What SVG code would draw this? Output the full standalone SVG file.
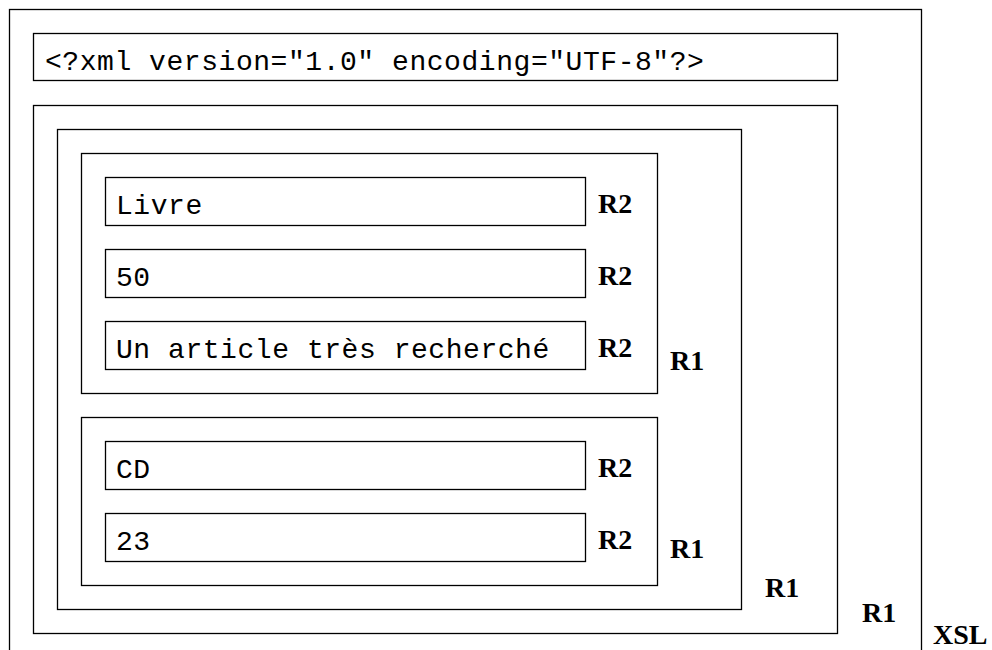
<svg xmlns="http://www.w3.org/2000/svg" width="992" height="650" viewBox="0 0 992 650">
<style>
rect{fill:none;stroke:#000;stroke-width:1.3}
.m{font-family:"Liberation Mono","Courier New",monospace;font-size:28px;letter-spacing:0.55px;fill:#000}
.l{font-family:"Liberation Serif","Times New Roman",serif;font-size:28px;font-weight:bold;fill:#000}
</style>
<rect width="992" height="650" fill="#fff" style="fill:#fff;stroke:none"/>
<g id="xsl">
<rect x="9.5" y="9.5" width="912" height="660"/>
<text class="l" x="933" y="644">XSL</text>
</g>
<g id="decl">
<rect x="33.5" y="33.5" width="804" height="47"/>
<text class="m" x="45" y="69.5">&lt;?xml version="1.0" encoding="UTF-8"?&gt;</text>
</g>
<g id="r1-root">
<rect x="33.5" y="105.5" width="804" height="528"/>
<text class="l" x="862" y="622">R1</text>
</g>
<g id="r1-list">
<rect x="57.5" y="129.5" width="684" height="480"/>
<text class="l" x="765" y="597">R1</text>
</g>
<g id="r1-item1">
<rect x="81.5" y="153.5" width="576" height="240"/>
<text class="l" x="670" y="370">R1</text>
</g>
<g id="livre">
<rect x="105.5" y="177.5" width="480" height="48"/>
<text class="m" x="116" y="214">Livre</text>
<text class="l" x="598" y="213">R2</text>
</g>
<g id="p50">
<rect x="105.5" y="249.5" width="480" height="48"/>
<text class="m" x="116" y="286">50</text>
<text class="l" x="598" y="285">R2</text>
</g>
<g id="desc">
<rect x="105.5" y="321.5" width="480" height="48"/>
<text class="m" x="116" y="358">Un article très recherché</text>
<text class="l" x="598" y="357">R2</text>
</g>
<g id="r1-item2">
<rect x="81.5" y="417.5" width="576" height="168"/>
<text class="l" x="670" y="558">R1</text>
</g>
<g id="cd">
<rect x="105.5" y="441.5" width="480" height="48"/>
<text class="m" x="116" y="478">CD</text>
<text class="l" x="598" y="477">R2</text>
</g>
<g id="p23">
<rect x="105.5" y="513.5" width="480" height="48"/>
<text class="m" x="116" y="550">23</text>
<text class="l" x="598" y="549">R2</text>
</g>
<g id="connectors"/>
</svg>
